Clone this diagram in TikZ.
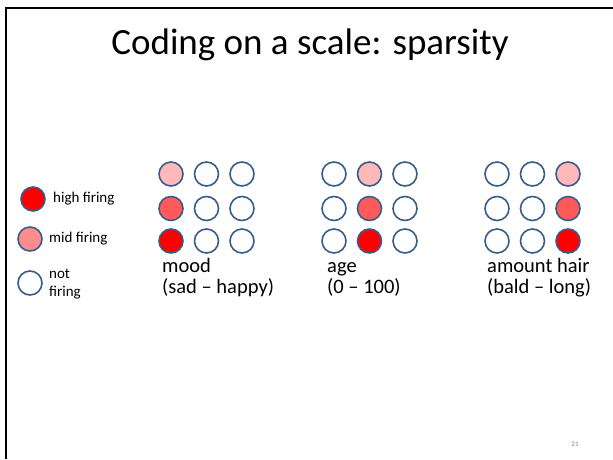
\documentclass[tikz,border=0pt]{standalone}
\usepackage{fontspec}
\setmainfont{Carlito}
\definecolor{rimblue}{RGB}{56,93,138}
\definecolor{firehigh}{RGB}{255,0,0}
\definecolor{firemid}{RGB}{255,90,90}
\definecolor{firelow}{RGB}{255,185,185}
\definecolor{legendmid}{RGB}{255,140,140}
\tikzset{
  neuron/.style={circle, draw=rimblue, line width=1.6pt, minimum size=24pt, inner sep=0pt, fill=white},
  lbl/.style={anchor=base west, inner sep=0pt, font=\fontsize{20.5}{21}\selectfont, align=left},
  legendtxt/.style={anchor=west, inner sep=0pt, font=\fontsize{15}{18}\selectfont, align=left},
}
\begin{document}
\begin{tikzpicture}[x=1pt, y=-1pt]
\useasboundingbox (0,0) rectangle (613,459);
% slide frame: top and left edge
\draw[line width=2.2pt] (6,459) -- (6,8) -- (613,8);
% title
\node[inner sep=0pt, font=\fontsize{37}{44}\selectfont] (title) at (310,45) {Coding on a scale: sparsity};

% legend
\node[neuron, fill=firehigh] (lhigh) at (33,199) {};
\node[neuron, fill=legendmid] (lmid) at (30,239) {};
\node[neuron] (lnot) at (30,283) {};
\node[legendtxt] (thigh) at (53,199) {high firing};
\node[legendtxt] (tmid) at (49,239) {mid firing};
\node[legendtxt] (tnot) at (49,284) {not\\firing};

% three 3x3 grids; the lit column climbs with the coded value
\foreach \g/\x/\lit in {mood/171/1, age/334/2, hair/497/3} {
  \foreach \c in {1,2,3} {
    \foreach \r/\y/\col in {1/174/firelow, 2/208.5/firemid, 3/241/firehigh} {
      \ifnum\c=\lit
        \node[neuron, fill=\col] (\g-\r-\c) at ({\x+(\c-1)*35.5},\y) {};
      \else
        \node[neuron] (\g-\r-\c) at ({\x+(\c-1)*35.5},\y) {};
      \fi
    }
  }
}

% scale labels
\node[lbl] (moodlbl) at (162,293) {mood\\(sad – happy)};
\node[lbl] (agelbl) at (327,293) {age\\(0 – 100)};
\node[lbl] (hairlbl) at (487,293) {amount hair\\(bald – long)};

% slide number
\node[inner sep=0pt, font=\fontsize{7}{8}\selectfont, text=gray] (pageno) at (575,444) {21};
\end{tikzpicture}
\end{document}
